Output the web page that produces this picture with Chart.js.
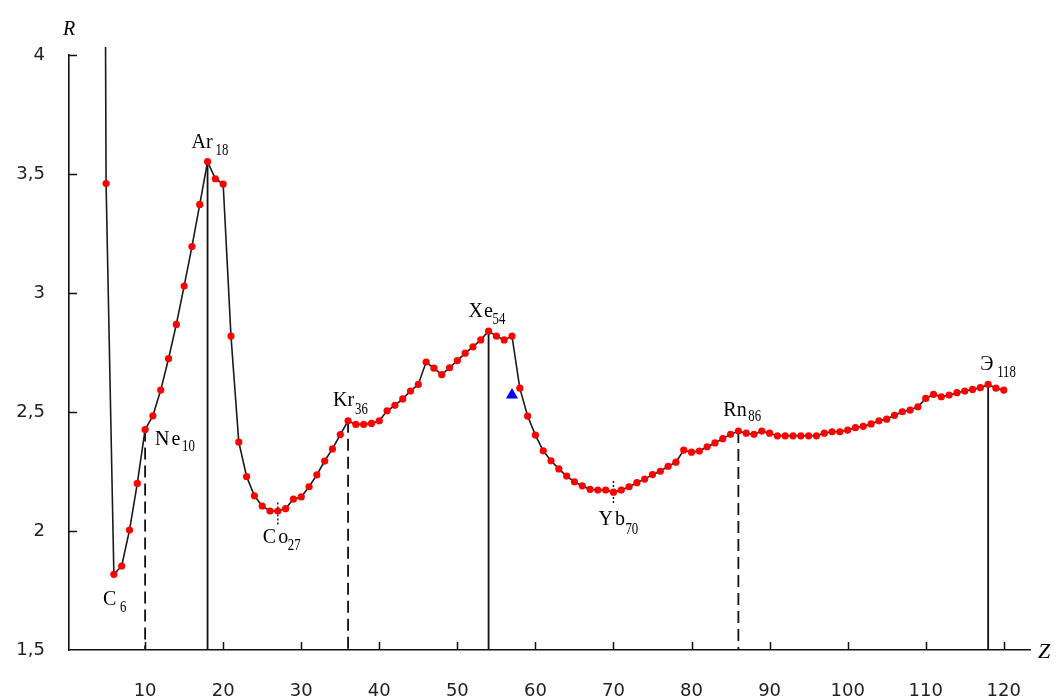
<!DOCTYPE html>
<html>
<head>
<meta charset="utf-8">
<script src="https://cdn.jsdelivr.net/npm/chart.js@4.4.0/dist/chart.umd.min.js"></script>
<style>
  html, body { margin: 0; padding: 0; background: #fff; }
  #wrap { width: 1058px; height: 700px; }
</style>
</head>
<body>
<div id="wrap"><canvas id="chart"></canvas></div>
<script>
// R against atomic number Z, one value per element from Z = 4 up to Z = 120
const firstZ = 4;
const rValues = [
  12.0, 3.46, 1.818, 1.853, 2.004, 2.20, 2.426, 2.484, 2.592, 2.724,   // 4..13
  2.868, 3.029, 3.195, 3.372, 3.552, 3.48, 3.458, 2.819, 2.374, 2.229, // 14..23
  2.148, 2.105, 2.084, 2.084, 2.094, 2.134, 2.143, 2.186, 2.236, 2.294, // 24..33
  2.345, 2.405, 2.463, 2.448, 2.448, 2.452, 2.463, 2.505, 2.528, 2.555, // 34..43
  2.588, 2.616, 2.71, 2.684, 2.657, 2.686, 2.716, 2.747, 2.774, 2.803,  // 44..53
  2.84, 2.819, 2.803, 2.819, 2.60, 2.483, 2.403, 2.337, 2.295, 2.261,   // 54..63
  2.231, 2.207, 2.19, 2.175, 2.172, 2.172, 2.163, 2.172, 2.186, 2.203,  // 64..73
  2.218, 2.237, 2.251, 2.272, 2.289, 2.34, 2.331, 2.336, 2.354, 2.37,   // 74..83
  2.388, 2.406, 2.42, 2.411, 2.406, 2.42, 2.411, 2.40, 2.40, 2.40,      // 84..93
  2.40, 2.40, 2.40, 2.411, 2.417, 2.417, 2.424, 2.434, 2.44, 2.45,      // 94..103
  2.463, 2.47, 2.486, 2.501, 2.508, 2.522, 2.557, 2.574, 2.564, 2.571,  // 104..113
  2.581, 2.588, 2.595, 2.602, 2.616, 2.60, 2.592                        // 114..120
];

// separate marker
const triangleZ = [57];
const triangleR = [2.571];

// drop lines to the axis
const solidDrops = [18, 54, 118];
const dashedDrops = [10, 36, 86];
// short dotted marks: Z, upper R, lower R
const dottedZ = [27, 70];
const dottedTop = [2.12, 2.21];
const dottedBottom = [2.02, 2.11];

// element labels
const labelZ = [6, 10, 18, 27, 36, 54, 70, 86, 118];
const labelSymbols = ['C', 'Ne', 'Ar', 'Co', 'Kr', 'Xe', 'Yb', 'Rn', 'Э'];
const labelNumbers = ['6', '10', '18', '27', '36', '54', '70', '86', '118'];

const xTicks = [10, 20, 30, 40, 50, 60, 70, 80, 90, 100, 110, 120];
const yTicks = [1.5, 2, 2.5, 3, 3.5, 4];
const yTickLabels = ['1,5', '2', '2,5', '3', '3,5', '4'];

const rAt = z => rValues[z - firstZ];
const points = rValues.map((r, i) => ({ x: firstZ + i, y: r }));

// pixel placement of each label relative to its point
const labelPlacement = {
  6:   { dx: -11, dy: 31, sdx: 6, sdy: 38, spacing: 0 },
  10:  { dx: 10, dy: 15, sdx: 37, sdy: 21, spacing: 2 },
  18:  { dx: -16, dy: -14, sdx: 8, sdy: -7, spacing: 0 },
  27:  { dx: -15, dy: 32, sdx: 10, sdy: 39, spacing: 2 },
  36:  { dx: -15, dy: -15, sdx: 7, sdy: -7, spacing: 0 },
  54:  { dx: -20, dy: -14, sdx: 4, sdy: -7, spacing: 1 },
  70:  { dx: -15, dy: 33, sdx: 12, sdy: 42, spacing: 2 },
  86:  { dx: -15, dy: -15, sdx: 10, sdy: -10, spacing: 0 },
  118: { dx: -8, dy: -14, sdx: 9, sdy: -7, spacing: 0 }
};

const dropSet = (z, top, bottom, dash, width) => ({
  data: [{ x: z, y: top }, { x: z, y: bottom }],
  borderColor: '#111',
  borderWidth: width,
  borderDash: dash,
  pointRadius: 0,
  order: 2
});

const datasets = [
  {
    data: points,
    borderColor: '#1a1a1a',
    borderWidth: 1.6,
    tension: 0,
    pointRadius: ctx => (ctx.raw && ctx.raw.y > 4 ? 0 : 3.6),
    pointBackgroundColor: '#ff0000',
    pointBorderColor: '#ff0000',
    pointBorderWidth: 0,
    clip: { left: 4, top: 8, right: 4, bottom: 4 },
    order: 0
  },
  {
    data: triangleZ.map((z, i) => ({ x: z, y: triangleR[i] })),
    showLine: false,
    pointStyle: 'triangle',
    pointRadius: 7,
    pointBackgroundColor: '#0000ff',
    pointBorderColor: '#0000ff',
    pointBorderWidth: 0,
    order: 1
  }
];
solidDrops.forEach(z => datasets.push(dropSet(z, rAt(z), 1.5, [], 1.8)));
dashedDrops.forEach(z => datasets.push(dropSet(z, rAt(z), 1.5, [12, 6], 1.8)));
dottedZ.forEach((z, i) => datasets.push(dropSet(z, dottedTop[i], dottedBottom[i], [2, 2], 1.4)));

const overlay = {
  id: 'overlay',
  afterDraw(chart) {
    const { ctx, chartArea, scales: { x, y } } = chart;
    ctx.save();

    // tick marks pointing into the plot
    ctx.strokeStyle = '#111';
    ctx.lineWidth = 1.5;
    ctx.beginPath();
    xTicks.forEach(v => {
      const px = Math.round(x.getPixelForValue(v)) + 0.5;
      ctx.moveTo(px, chartArea.bottom);
      ctx.lineTo(px, chartArea.bottom - 8);
    });
    yTicks.slice(1).forEach(v => {
      const py = Math.round(y.getPixelForValue(v)) + 0.5;
      ctx.moveTo(chartArea.left, py);
      ctx.lineTo(chartArea.left + 8, py);
    });
    ctx.stroke();

    // element symbols with subscripted Z
    ctx.fillStyle = '#000';
    ctx.textBaseline = 'alphabetic';
    ctx.textAlign = 'left';
    labelZ.forEach((z, i) => {
      const p = labelPlacement[z];
      const px = x.getPixelForValue(z);
      const py = y.getPixelForValue(rAt(z));
      ctx.font = '20px "Liberation Serif", "Times New Roman", serif';
      ctx.letterSpacing = p.spacing + 'px';
      ctx.fillText(labelSymbols[i], px + p.dx, py + p.dy);
      ctx.letterSpacing = '0px';
      ctx.save();
      ctx.translate(px + p.sdx, py + p.sdy);
      ctx.scale(0.8, 1);
      ctx.font = '16px "Liberation Serif", "Times New Roman", serif';
      ctx.fillText(labelNumbers[i], 0, 0);
      ctx.restore();
    });

    // axis names
    ctx.font = 'italic 20px "Liberation Serif", "Times New Roman", serif';
    ctx.fillText('R', chartArea.left - 6, y.getPixelForValue(4) - 20);
    ctx.font = 'italic 22px "Liberation Serif", "Times New Roman", serif';
    ctx.fillText('Z', chartArea.right + 8, chartArea.bottom + 8);

    ctx.restore();
  }
};

new Chart(document.getElementById('chart'), {
  type: 'line',
  data: { datasets },
  plugins: [overlay],
  options: {
    responsive: true,
    maintainAspectRatio: false,
    animation: false,
    devicePixelRatio: 1,
    layout: { padding: { top: 55, right: 28, left: 0, bottom: 0 } },
    plugins: { legend: { display: false }, tooltip: { enabled: false } },
    scales: {
      x: {
        type: 'linear',
        min: 0.25,
        max: 123.36,
        afterFit: s => { s.height = 50; },
        afterBuildTicks: s => { s.ticks = xTicks.map(v => ({ value: v })); },
        grid: { display: true, drawOnChartArea: false, drawTicks: false },
        border: { display: true, color: '#111', width: 1.6 },
        ticks: {
          padding: 31,
          color: '#222',
          font: { family: '"DejaVu Sans", sans-serif', size: 18 },
          maxRotation: 0,
          autoSkip: false
        }
      },
      y: {
        type: 'linear',
        min: 1.5,
        max: 4,
        afterFit: s => { s.width = 69; },
        afterBuildTicks: s => { s.ticks = yTicks.map(v => ({ value: v })); },
        grid: { display: true, drawOnChartArea: false, drawTicks: false },
        border: { display: true, color: '#111', width: 1.6 },
        ticks: {
          padding: 24,
          color: '#222',
          font: { family: '"DejaVu Sans", sans-serif', size: 18 },
          callback: v => yTickLabels[yTicks.indexOf(v)]
        }
      }
    }
  }
});
</script>
</body>
</html>
